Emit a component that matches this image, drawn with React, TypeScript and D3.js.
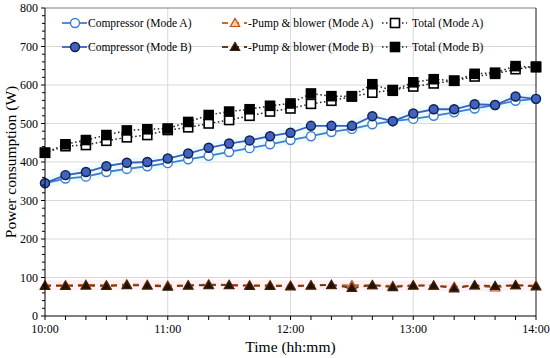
import React from 'react';
import * as d3 from 'd3';

// time in minutes after 10:00, every 10 minutes
const minutes = d3.range(0, 250, 10);
const hourLabels = ['10:00', '11:00', '12:00', '13:00', '14:00'];
const yTicks = [0, 100, 200, 300, 400, 500, 600, 700, 800];

const compressorA = [345, 357, 362, 374, 382, 389, 397, 407, 416, 426, 436, 446, 457, 467, 478, 486, 498, 506, 512, 520, 529, 539, 548, 559, 564];
const compressorB = [345, 366, 374, 389, 398, 400, 409, 422, 437, 448, 456, 467, 476, 494, 494, 494, 519, 506, 526, 537, 537, 550, 548, 570, 564];
const pumpA = [80, 80, 81, 80, 82, 81, 79, 80, 82, 81, 80, 80, 79, 80, 80, 80, 80, 78, 80, 79, 76, 79, 74, 80, 79];
const pumpB = [78, 78, 79, 78, 80, 79, 76, 79, 80, 80, 78, 78, 77, 79, 81, 73, 80, 75, 79, 79, 72, 80, 78, 80, 77];
const totalA = [424, 441, 444, 455, 464, 470, 483, 490, 500, 509, 520, 531, 539, 551, 559, 570, 580, 587, 596, 604, 611, 622, 629, 641, 648];
const totalB = [424, 446, 457, 470, 482, 485, 487, 504, 522, 531, 537, 546, 552, 578, 571, 571, 602, 585, 607, 615, 611, 629, 632, 649, 646];

const FONT = 'Liberation Serif';

type Marker = 'circle' | 'square' | 'triangle';

function MarkerShape({ kind, x, y, fill, stroke }: { kind: Marker; x: number; y: number; fill: string; stroke: string }) {
  if (kind === 'circle') return <circle cx={x} cy={y} r={4.5} fill={fill} stroke={stroke} strokeWidth={1.4} />;
  if (kind === 'square') return <rect x={x - 4.5} y={y - 4.5} width={9} height={9} fill={fill} stroke={stroke} strokeWidth={1.6} />;
  const p = d3.symbol(d3.symbolTriangle, 38)();
  return <path d={p || ''} transform={`translate(${x},${y + 0.8})`} fill={fill} stroke={stroke} strokeWidth={1.2} />;
}

function Label(props: { x?: number; y?: number; size: number; anchor?: string; transform?: string; children: React.ReactNode }) {
  return (
    <text
      x={props.x}
      y={props.y}
      transform={props.transform}
      textAnchor={props.anchor || 'start'}
      fontFamily={FONT}
      style={{ fontFamily: FONT, fontSize: props.size + 'px' }}
      fill="#000"
    >
      {props.children}
    </text>
  );
}

export default function App() {
  const width = 550;
  const height = 358;
  const left = 45, right = 536, top = 8, bottom = 316;

  const x = d3.scaleLinear().domain([0, 240]).range([left, right]);
  const y = d3.scaleLinear().domain([0, 800]).range([bottom, top]);

  const line = d3.line<number>().x((_, i) => x(minutes[i])).y(d => y(d));

  const series = [
    { name: 'Compressor (Mode A)', data: compressorA, color: '#3f7fd0', dash: '', kind: 'circle' as Marker, fill: '#ffffff', mstroke: '#3f7fd0', glow: '#eefbfd' },
    { name: 'Compressor (Mode B)', data: compressorB, color: '#3d5fc4', dash: '', kind: 'circle' as Marker, fill: '#4062c0', mstroke: '#10204a', glow: '#eefbfd' },
    { name: 'Pump & blower (Mode A)', data: pumpA, color: '#d9651f', dash: '6,5', kind: 'triangle' as Marker, fill: '#f6c9a0', mstroke: '#c0501a', glow: '#fdf0f6' },
    { name: 'Pump & blower (Mode B)', data: pumpB, color: '#6b3a12', dash: '6,5', kind: 'triangle' as Marker, fill: '#1e1208', mstroke: '#3a200a', glow: '' },
    { name: 'Total (Mode A)', data: totalA, color: '#222222', dash: '1.5,2.5', kind: 'square' as Marker, fill: '#ffffff', mstroke: '#000000', glow: '' },
    { name: 'Total (Mode B)', data: totalB, color: '#222222', dash: '1.5,2.5', kind: 'square' as Marker, fill: '#000000', mstroke: '#000000', glow: '' },
  ];

  const minorY = d3.range(0, 801, 20);
  const hourMinutes = [0, 60, 120, 180, 240];

  // legend layout: 3 columns x 2 rows (A row, B row)
  const legendCols = [62, 222, 382];
  const legendRows = [23, 47];
  const legendOrder = [[0, 2, 4], [1, 3, 5]];

  return (
    <svg width={width} height={height} style={{ position: 'absolute', left: 0, top: 0, background: '#fff' }}>
      {/* gridlines */}
      {yTicks.filter(t => t > 0 && t < 800).map(t => (
        <line key={'gy' + t} x1={left} x2={right} y1={y(t)} y2={y(t)} stroke="#d9d9d9" strokeWidth={1} />
      ))}
      {hourMinutes.slice(1, 4).map(m => (
        <line key={'gx' + m} x1={x(m)} x2={x(m)} y1={top} y2={bottom} stroke="#d9d9d9" strokeWidth={1} />
      ))}
      {/* frame top/right */}
      <line x1={left} x2={right} y1={top} y2={top} stroke="#7f7f7f" strokeWidth={1} />
      <line x1={right} x2={right} y1={top} y2={bottom} stroke="#404040" strokeWidth={1.2} />

      {/* light halos */}
      {series.filter(s => s.glow).map(s => (
        <path key={'h' + s.name} d={line(s.data) || ''} fill="none" stroke={s.glow} strokeWidth={10} strokeLinejoin="round" />
      ))}

      {/* series lines */}
      {series.map(s => (
        <path key={'l' + s.name} d={line(s.data) || ''} fill="none" stroke={s.color} strokeWidth={s.kind === 'square' ? 1.5 : 1.8} strokeDasharray={s.dash} />
      ))}
      {/* markers */}
      {series.map(s => (
        <g key={'m' + s.name}>
          {s.data.map((v, i) => (
            <MarkerShape key={i} kind={s.kind} x={x(minutes[i])} y={y(v)} fill={s.fill} stroke={s.mstroke} />
          ))}
        </g>
      ))}

      {/* axes */}
      <line x1={left} x2={left} y1={top} y2={bottom} stroke="#000" strokeWidth={1} />
      <line x1={left} x2={right} y1={bottom} y2={bottom} stroke="#000" strokeWidth={1} />
      {minorY.map(t => (
        <line key={'ty' + t} x1={left - (t % 100 === 0 ? 4 : 3)} x2={left} y1={y(t)} y2={y(t)} stroke="#000" strokeWidth={1} />
      ))}
      {yTicks.map(t => (
        <Label key={'yl' + t} x={left - 7} y={y(t) + 4} anchor="end" size={12}>{t}</Label>
      ))}
      {minutes.map(m => (
        <line key={'tx' + m} x1={x(m)} x2={x(m)} y1={bottom} y2={bottom + 4} stroke="#000" strokeWidth={1} />
      ))}
      {hourMinutes.map((m, i) => (
        <Label key={'xl' + m} x={x(m)} y={bottom + 17} anchor="middle" size={12}>{hourLabels[i]}</Label>
      ))}
      <Label x={(left + right) / 2} y={352} anchor="middle" size={15.5}>Time (hh:mm)</Label>
      <Label transform={`translate(16,${(top + bottom) / 2}) rotate(-90)`} anchor="middle" size={15.5}>Power consumption (W)</Label>

      {/* legend */}
      {legendOrder.map((row, r) => row.map((si, c) => {
        const s = series[si];
        const lx = legendCols[c];
        const ly = legendRows[r];
        return (
          <g key={'lg' + si}>
            <line x1={lx} x2={lx + 25} y1={ly} y2={ly} stroke={s.color} strokeWidth={s.kind === 'square' ? 1.5 : 1.8} strokeDasharray={s.dash} />
            <MarkerShape kind={s.kind} x={lx + 13} y={ly} fill={s.fill} stroke={s.mstroke} />
            <Label x={lx + (s.kind === 'square' ? 30 : 26)} y={ly + 4} size={11.5}>
              {s.kind === 'triangle' ? '-' + s.name : s.name}
            </Label>
          </g>
        );
      }))}
    </svg>
  );
}
